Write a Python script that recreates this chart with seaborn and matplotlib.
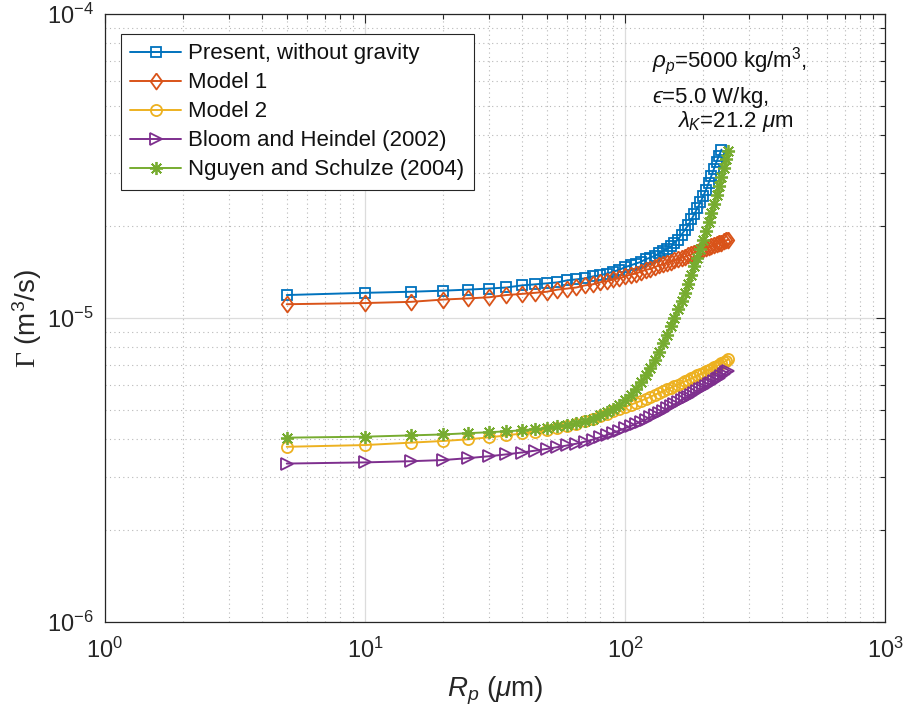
import matplotlib
matplotlib.use("Agg")
import numpy as np
import pandas as pd
import matplotlib.pyplot as plt
import seaborn as sns
from matplotlib.ticker import LogLocator, NullFormatter, LogFormatterSciNotation

# Particle radius R_p (um)
R_p = [5, 10, 15, 20, 25, 30, 35, 40, 45, 50,
       55, 60, 65, 70, 75, 80, 85, 90, 95, 100,
       105, 110, 115, 120, 125, 130, 135, 140, 145, 150,
       155, 160, 165, 170, 175, 180, 185, 190, 195, 200,
       205, 210, 215, 220, 225, 230, 235, 240, 245, 250]

# Collision kernel Gamma, in units of 1e-6 m^3/s
present_no_gravity = [11.9, 12.1, 12.2, 12.3, 12.4, 12.5, 12.6, 12.8, 12.9, 13.0,
                      13.1, 13.3, 13.4, 13.5, 13.7, 13.8, 14.0, 14.2, 14.4, 14.7,
                      14.9, 15.1, 15.3, 15.6, 15.8, 16.0, 16.3, 16.6, 16.9, 17.2,
                      17.7, 18.1, 18.8, 19.5, 20.2, 21.1, 22.0, 23.0, 24.0, 25.2,
                      26.4, 27.9, 29.4, 31.0, 32.7, 34.2, 35.8]
model_1 = [11.1, 11.2, 11.3, 11.5, 11.6, 11.7, 11.9, 12.0, 12.1, 12.2,
           12.4, 12.5, 12.6, 12.8, 12.9, 13.1, 13.2, 13.4, 13.5, 13.7,
           13.9, 14.0, 14.2, 14.4, 14.5, 14.7, 14.9, 15.0, 15.2, 15.3,
           15.5, 15.6, 15.8, 15.9, 16.1, 16.2, 16.4, 16.5, 16.7, 16.9,
           17.0, 17.1, 17.2, 17.4, 17.5, 17.6, 17.7, 17.9, 18.0, 18.1]
model_2 = [3.77, 3.82, 3.89, 3.94, 3.99, 4.05, 4.11, 4.17, 4.23, 4.29,
           4.35, 4.42, 4.49, 4.57, 4.66, 4.75, 4.84, 4.93, 5.02, 5.10,
           5.18, 5.26, 5.34, 5.42, 5.50, 5.59, 5.66, 5.74, 5.82, 5.89,
           5.96, 6.03, 6.11, 6.19, 6.26, 6.33, 6.40, 6.47, 6.54, 6.61,
           6.68, 6.75, 6.82, 6.88, 6.95, 7.02, 7.09, 7.16, 7.24, 7.31]
bloom_heindel = [3.32, 3.35, 3.38, 3.41, 3.46, 3.51, 3.56, 3.61, 3.66, 3.71,
                 3.76, 3.81, 3.86, 3.92, 3.98, 4.05, 4.12, 4.19, 4.26, 4.34,
                 4.41, 4.48, 4.56, 4.63, 4.71, 4.79, 4.87, 4.95, 5.04, 5.12,
                 5.20, 5.28, 5.36, 5.44, 5.51, 5.59, 5.67, 5.74, 5.82, 5.90,
                 5.98, 6.05, 6.13, 6.21, 6.29, 6.37, 6.45, 6.54, 6.62, 6.70]
nguyen_schulze = [4.04, 4.07, 4.11, 4.14, 4.18, 4.21, 4.24, 4.27, 4.31, 4.35,
                  4.40, 4.45, 4.51, 4.58, 4.66, 4.78, 4.89, 5.03, 5.18, 5.36,
                  5.59, 5.85, 6.14, 6.47, 6.83, 7.25, 7.73, 8.25, 8.79, 9.38,
                  10.0, 10.7, 11.4, 12.1, 12.9, 13.8, 14.8, 15.7, 16.9, 18.0,
                  19.4, 20.7, 22.2, 23.8, 25.4, 27.2, 29.2, 31.2, 33.3, 35.5]

series_names = ["Present, without gravity", "Model 1", "Model 2",
                "Bloom and Heindel (2002)", "Nguyen and Schulze (2004)"]
series_values = [present_no_gravity, model_1, model_2, bloom_heindel, nguyen_schulze]
colors = ["#0072BD", "#D95319", "#EDB120", "#7E2F8E", "#77AC30"]

# long table for seaborn
frames = []
for name, vals in zip(series_names, series_values):
    frames.append(pd.DataFrame({
        "R_p": R_p[:len(vals)],
        "Gamma": np.asarray(vals) * 1e-6,
        "series": name,
    }))
df = pd.concat(frames, ignore_index=True)

sns.set_theme(style="white")
plt.rcParams.update({
    "font.family": ["Liberation Sans", "DejaVu Sans"],
    "mathtext.fontset": "custom",
    "mathtext.rm": "Liberation Sans",
    "mathtext.it": "Liberation Sans:italic",
    "mathtext.bf": "Liberation Sans:bold",
    "mathtext.sf": "Liberation Serif",
    "axes.unicode_minus": False,
    "axes.edgecolor": "#262626",
    "axes.linewidth": 0.9,
})

fig = plt.figure(figsize=(9.05, 7.19), dpi=100)
ax = fig.add_axes([105 / 905, 1 - 622 / 719, 780 / 905, 608 / 719])

sns.lineplot(data=df, x="R_p", y="Gamma", hue="series", hue_order=series_names,
             palette=colors, estimator=None, errorbar=None, sort=False,
             linewidth=1.4, legend=False, ax=ax)

# open markers in the line colour
diamond = [(0, 1), (0.72, 0), (0, -1), (-0.72, 0), (0, 1)]
marker_specs = [("s", 7.8), (diamond, 11.5), ("o", 8.0), (">", 9.2), ((8, 2, 0), 9.4)]
for line, color, (mk, ms) in zip(ax.lines, colors, marker_specs):
    line.set_marker(mk)
    line.set_markersize(ms)
    line.set_markerfacecolor("none")
    line.set_markeredgecolor(color)
    line.set_markeredgewidth(1.3)
    line.set_color(color)

ax.set_xscale("log")
ax.set_yscale("log")
ax.set_xlim(1, 1000)
ax.set_ylim(1e-6, 1e-4)

for axis in (ax.xaxis, ax.yaxis):
    axis.set_major_locator(LogLocator(base=10, numticks=10))
    axis.set_minor_locator(LogLocator(base=10, subs=np.arange(2, 10), numticks=100))
    axis.set_major_formatter(LogFormatterSciNotation())
    axis.set_minor_formatter(NullFormatter())

ax.grid(True, which="major", color="#dcdcdc", linewidth=0.9, linestyle="-")
ax.grid(True, which="minor", color="#b8b8b8", linewidth=0.8, linestyle=(0, (1, 3)))
ax.set_axisbelow(True)

ax.tick_params(which="both", direction="in", top=True, right=True,
               color="#262626", width=0.8)
ax.tick_params(which="major", length=6.5, labelsize=17, labelcolor="#262626")
ax.tick_params(which="minor", length=3.8)
ax.tick_params(axis="x", which="major", pad=11)
ax.tick_params(axis="y", which="major", pad=8)

ax.set_xlabel(r"$R_p$ ($\mu$m)", fontsize=20, color="#262626", labelpad=9)
ax.set_ylabel(r"$\mathsf{\Gamma}$ (m$^3$/s)", fontsize=20, color="#262626", labelpad=2)

leg = ax.legend(ax.lines, series_names, loc="upper left",
                bbox_to_anchor=(16 / 780, (622 - 34) / 608), borderaxespad=0,
                frameon=True, fancybox=False, framealpha=1, edgecolor="#262626",
                fontsize=16, handlelength=2.3, handletextpad=0.3,
                labelspacing=0.36, borderpad=0.42, numpoints=1)
leg.get_frame().set_linewidth(0.8)
for t in leg.get_texts():
    t.set_color("#111111")

# parameter annotation
fig.text(652 / 905, 1 - 61 / 719, r"$\rho_p$=5000 kg/m$^3$,", fontsize=16,
         va="center", ha="left", color="#111111")
fig.text(652 / 905, 1 - 97 / 719, "$\u03f5$=5.0 W/kg,", fontsize=16,
         va="center", ha="left", color="#111111")
fig.text(677 / 905, 1 - 121 / 719, r"$\lambda_K$=21.2 $\mu$m", fontsize=16,
         va="center", ha="left", color="#111111")

fig.savefig("out.png", dpi=100, facecolor="white")
